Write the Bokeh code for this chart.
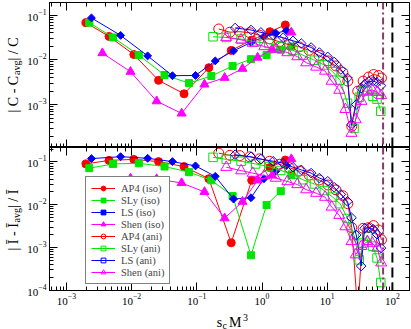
import numpy as np
from bokeh.plotting import figure
from bokeh.models import LogAxis, LogTicker, Span, Legend, LegendItem, Label, Range1d, CustomJSTickFormatter
from bokeh.layouts import column, row
from bokeh.embed import file_html
from bokeh.resources import INLINE

# ---------------- data ----------------
series_names = ["AP4 (iso)", "SLy (iso)", "LS (iso)", "Shen (iso)",
                "AP4 (ani)", "SLy (ani)", "LS (ani)", "Shen (ani)"]

ap4_iso_x = [0.00199, 0.0045, 0.0108, 0.0259, 0.0637, 0.153, 0.337, 0.695, 1.32, 2.28]
ap4_iso_c = [0.0679, 0.0334, 0.0132, 0.0035, 0.00175, 0.0067, 0.0163, 0.0277, 0.0426, 0.0602]
ap4_iso_i = [0.090, 0.109, 0.115, 0.102, 0.078, 0.0406, 0.00129, 0.0373, 0.074, 0.111]

sly_iso_x = [0.00224, 0.00518, 0.0129, 0.032, 0.0759, 0.167, 0.354, 0.678, 1.175, 1.94, 2.82]
sly_iso_c = [0.0679, 0.0317, 0.0128, 0.0046, 0.00304, 0.00437, 0.00733, 0.0104, 0.0128, 0.0168, 0.0199]
sly_iso_i = [0.0716, 0.0899, 0.0933, 0.0783, 0.0579, 0.0373, 0.016, 0.00066, 0.0099, 0.0208, 0.0494]

ls_iso_x = [0.00242, 0.00678, 0.0176, 0.0423, 0.0955, 0.192, 0.366, 0.678, 1.07, 1.63, 2.37]
ls_iso_c = [0.0865, 0.0352, 0.0123, 0.00444, 0.0045, 0.0095, 0.0159, 0.0245, 0.033, 0.0394, 0.045]
ls_iso_i = [0.12, 0.133, 0.122, 0.102, 0.081, 0.0461, 0.0136, 0.0146, 0.0406, 0.061, 0.0826]

shen_iso_x = [0.00356, 0.00962, 0.0242, 0.0585, 0.131, 0.267, 0.502, 0.857, 1.43, 2.82]
shen_iso_c = [0.0142, 0.00545, 0.0012, 0.00064, 0.00284, 0.0040, 0.00637, 0.0113, 0.0174, 0.0411]
shen_iso_i = [0.0318, 0.0414, 0.0399, 0.0323, 0.020, 0.00486, 0.0118, 0.0373, 0.0486, 0.117]

ap4_ani_x = [0.217, 0.322, 0.457, 0.648, 0.919, 1.305, 1.85, 2.63, 3.73, 5.29, 7.51,
             10.3, 13.6, 17.4, 20.7, 23.8, 29.4, 35.6, 43.2, 51.4, 61.3, 68.0]
ap4_ani_c = [0.049, 0.0415, 0.0426, 0.0404, 0.0355, 0.0296, 0.0254, 0.0217, 0.0196, 0.0164, 0.0126,
             0.0095, 0.00733, 0.00524, 0.00337, 0.00033, 0.00201, 0.00337, 0.00415, 0.00472, 0.00448, 0.00394]
ap4_ani_i = [0.161, 0.143, 0.141, 0.132, 0.1185, 0.104, 0.0885, 0.0735, 0.0611, 0.0494, 0.0379,
             0.029, 0.0223, 0.0162, 0.0106, 0.00292, 0.00003, 0.00281, 0.00292, 0.00325, 0.00257, 0.00151]

sly_ani_x = [0.1775, 0.283, 0.478, 0.799, 1.273, 1.94, 2.99, 4.24, 6.37, 9.04,
             12.1, 15.8, 20.5, 25.8, 31.0, 35.6, 41.7, 49.7, 58.1, 66.4]
sly_ani_c = [0.0329, 0.0317, 0.0292, 0.0254, 0.0232, 0.0199, 0.0165, 0.01275, 0.00985, 0.00772,
             0.00546, 0.0035, 0.00108, 0.000296, 0.00147, 0.00201, 0.00201, 0.00155, 0.00133, 0.000714]
sly_ani_i = [0.1283, 0.1154, 0.1038, 0.0899, 0.0783, 0.0634, 0.0513, 0.0385, 0.0306, 0.0215,
             0.0151, 0.0106, 0.00478, 0.00191, 0.000515, 0.00127, 0.00184, 0.00108, 0.00057, 0.000152]

ls_ani_x = [0.387, 0.678, 0.962, 1.485, 2.11, 2.99, 4.0, 5.67, 7.59, 10.2, 12.8,
            16.2, 20.5, 23.6, 27.9, 33.2, 37.5, 43.6, 50.9, 58.1, 66.9]
ls_ani_c = [0.0516, 0.0465, 0.0411, 0.0359, 0.0312, 0.0267, 0.0232, 0.0189, 0.0146, 0.01168, 0.00902,
            0.00611, 0.00394, 0.000359, 0.00101, 0.00235, 0.00289, 0.00329, 0.00337, 0.00312, 0.00267]
ls_ani_i = [0.148, 0.132, 0.117, 0.104, 0.0933, 0.0755, 0.0654, 0.0549, 0.0421, 0.0354, 0.0257,
            0.0174, 0.012, 0.00497, 0.00197, 0.000369, 0.00281, 0.00289, 0.00267, 0.00205, 0.00097]

shen_ani_x = [0.283, 0.478, 0.72, 1.084, 1.627, 2.45, 3.475, 4.76, 6.76, 9.26,
              11.7, 15.3, 19.0, 23.6, 27.4, 33.5, 41.3, 49.2, 58.6, 67.3]
shen_ani_c = [0.0317, 0.0281, 0.0237, 0.0199, 0.0174, 0.0146, 0.01186, 0.0087, 0.00696, 0.00566,
              0.00337, 0.00212, 0.00079, 0.000232, 0.000465, 0.0012, 0.00201, 0.00212, 0.00191, 0.00161]
shen_ani_i = [0.0755, 0.0627, 0.0549, 0.0481, 0.0421, 0.035, 0.0298, 0.0226, 0.0187, 0.0151,
              0.0089, 0.0057, 0.00308, 0.00139, 0.00068, 0.00107, 0.00139, 0.00127, 0.00097, 0.00044]

vline_dashdot = 72.0
vline_dashed = 100.0

# ---------------- styling ----------------
FONT = "Liberation Serif"
RED, GREEN, BLUE, MAG = "#ff0000", "#00e600", "#0000ff", "#ff00ff"
PURPLE = "#873b6c"

styles = [
    dict(color=RED, marker="circle", size=8, fill=True, angle=0.0),
    dict(color=GREEN, marker="square", size=7, fill=True, angle=0.0),
    dict(color=BLUE, marker="square", size=5.6, fill=True, angle=np.pi / 4),
    dict(color=MAG, marker="triangle", size=9, fill=True, angle=0.0),
    dict(color=RED, marker="circle", size=10, fill=False, angle=0.0),
    dict(color=GREEN, marker="square", size=8.5, fill=False, angle=0.0),
    dict(color=BLUE, marker="square", size=6.8, fill=False, angle=np.pi / 4),
    dict(color=MAG, marker="triangle", size=11, fill=False, angle=0.0),
]

xs = [ap4_iso_x, sly_iso_x, ls_iso_x, shen_iso_x, ap4_ani_x, sly_ani_x, ls_ani_x, shen_ani_x]
ys_c = [ap4_iso_c, sly_iso_c, ls_iso_c, shen_iso_c, ap4_ani_c, sly_ani_c, ls_ani_c, shen_ani_c]
ys_i = [ap4_iso_i, sly_iso_i, ls_iso_i, shen_iso_i, ap4_ani_i, sly_ani_i, ls_ani_i, shen_ani_i]

X_RANGE = (5.5e-4, 183.0)
PW = 387  # width of the two panels' canvases


def style_axis(ax, labels):
    ax.major_tick_in = 8
    ax.major_tick_out = 0
    ax.minor_tick_in = 4
    ax.minor_tick_out = 0
    ax.axis_line_color = "black"
    ax.axis_line_width = 1
    ax.major_tick_line_color = "black"
    ax.minor_tick_line_color = "black"
    ax.major_label_text_font = FONT
    ax.major_label_text_color = "black"
    if labels:
        ax.major_label_text_font_size = "11px"
        ax.major_label_standoff = 3
    else:
        ax.formatter = CustomJSTickFormatter(code="return ''")
        ax.major_label_text_font_size = "1px"
        ax.major_label_text_alpha = 0.0
        ax.major_label_standoff = 0


def make_fig(y_range, h, border_top, border_bottom, xlabels):
    p = figure(x_axis_type="log", y_axis_type="log",
               x_range=Range1d(*X_RANGE), y_range=Range1d(*y_range),
               width=PW, height=h,
               min_border_left=22, min_border_right=2,
               min_border_top=border_top, min_border_bottom=border_bottom,
               output_backend="svg", toolbar_location=None)
    p.grid.visible = False
    p.outline_line_color = "black"
    p.background_fill_color = "white"
    p.border_fill_color = "white"
    style_axis(p.xaxis[0], xlabels)
    style_axis(p.yaxis[0], True)
    top_ax = LogAxis(ticker=LogTicker())
    right_ax = LogAxis(ticker=LogTicker())
    style_axis(top_ax, False)
    style_axis(right_ax, False)
    p.add_layout(top_ax, "above")
    p.add_layout(right_ax, "right")
    return p


def draw_series(p, ys):
    rends = []
    for x, y, st in zip(xs, ys, styles):
        ln = p.line(x, y, line_color=st["color"], line_width=1)
        sc = p.scatter(x, y, marker=st["marker"], size=st["size"], angle=st["angle"],
                       line_color=st["color"], line_width=1,
                       fill_color=st["color"] if st["fill"] else None)
        rends.append([ln, sc])
    p.add_layout(Span(location=vline_dashdot, dimension="height", line_color=PURPLE,
                      line_width=2, line_dash="7 3 2 3"))
    p.add_layout(Span(location=vline_dashed, dimension="height", line_color="black",
                      line_width=2, line_dash="10 5"))
    return rends


def text_fig(w, h):
    f = figure(width=w, height=h, x_range=Range1d(0, 1), y_range=Range1d(0, 1),
               x_axis_location=None, y_axis_location=None,
               min_border=0, min_border_left=0, min_border_right=0,
               min_border_top=0, min_border_bottom=0,
               output_backend="svg", toolbar_location=None)
    f.grid.visible = False
    f.outline_line_color = None
    f.background_fill_color = "white"
    f.border_fill_color = "white"
    return f


def add_text(f, pieces, angle=0.0):
    for txt, x, y, size in pieces:
        f.add_layout(Label(x=x, y=y, x_units="screen", y_units="screen", text=txt,
                           angle=angle, text_font=FONT, text_font_size=size,
                           text_align="left", text_baseline="alphabetic", text_color="black"))


# top panel: |C - C_avg| / C
p1 = make_fig((1.11e-4, 0.191), 147, 2, 0, False)
draw_series(p1, ys_c)

# bottom panel: |I - I_avg| / I
p2 = make_fig((0.99e-4, 0.218), 160, 0, 14, True)
rends = draw_series(p2, ys_i)

items = [LegendItem(label=name, renderers=r) for name, r in zip(series_names, rends)]
legend = Legend(items=items, location=(36, 6), orientation="vertical",
                label_text_font=FONT, label_text_font_size="10.5px",
                label_height=12, glyph_height=12, glyph_width=24,
                label_standoff=6, spacing=0, padding=5, margin=0,
                border_line_color="black", border_line_width=1,
                background_fill_color="white", background_fill_alpha=1.0)
p2.add_layout(legend)

# left strip with the two rotated y-axis titles
ylab = text_fig(24, 329)
add_text(ylab, [("| C - C", 13, 217, "14px"),
                ("avg", 15.5, 254.5, "10px"),
                (" | / C", 13, 269, "14px"),
                ("| Ī - Ī", 13, 79, "14px"),
                ("avg", 15.5, 107, "10px"),
                (" | / Ī", 13, 121.5, "14px")], angle=np.pi / 2)

# strip below with the x-axis title s_c M^3 (its frame lines up with the panels' frames)
xlab = text_fig(PW, 22)
add_text(xlab, [("s", 167.3, 7, "14px"), ("c", 172.9, 4.5, "10px"),
                ("M", 179.5, 7, "14px"), ("3", 193.5, 12.5, "10px")])

layout = row(ylab, column(p1, p2, xlab, spacing=0), spacing=0)
open("out.html", "w").write(file_html(layout, INLINE))
